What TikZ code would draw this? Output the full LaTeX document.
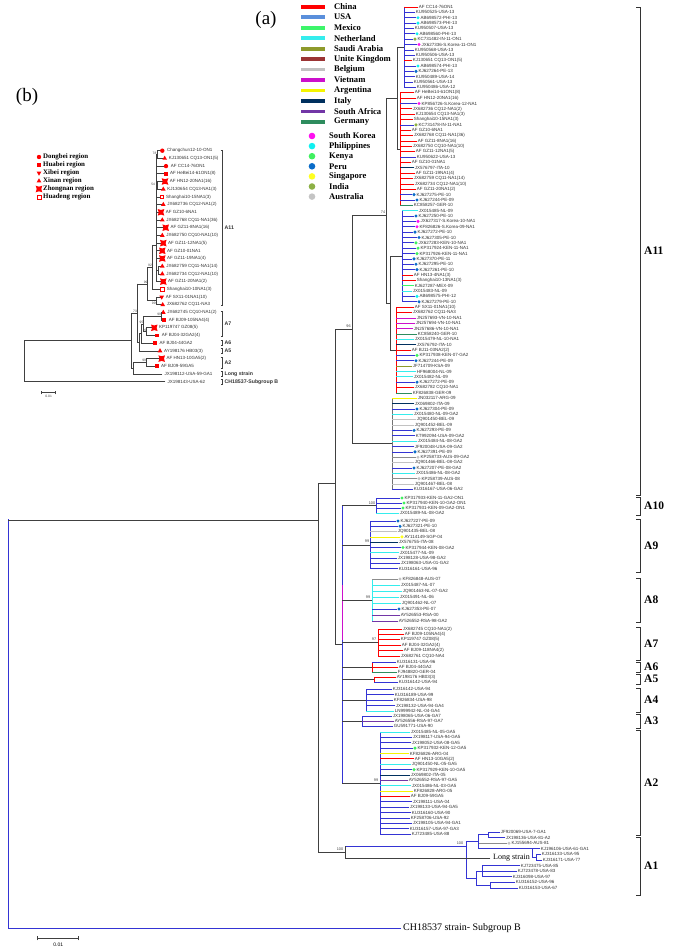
\documentclass[tikz,border=0pt]{standalone}
\usepackage{fontspec}
\setmainfont{Liberation Serif}
\setsansfont{Liberation Sans}
\usetikzlibrary{shapes.geometric}

\definecolor{cChina}{HTML}{FF0000}
\definecolor{cUSA}{HTML}{5A8FDB}
\definecolor{cMex}{HTML}{3DF56B}
\definecolor{cNeth}{HTML}{35EDED}
\definecolor{cSaudi}{HTML}{8E9A2B}
\definecolor{cUK}{HTML}{9B3434}
\definecolor{cBel}{HTML}{C2C2C2}
\definecolor{cViet}{HTML}{CC10CC}
\definecolor{cArg}{HTML}{F5F500}
\definecolor{cIta}{HTML}{00305E}
\definecolor{cSAf}{HTML}{7236A6}
\definecolor{cGer}{HTML}{2E8C5E}
\definecolor{dKor}{HTML}{FF10F0}
\definecolor{dPhi}{HTML}{10F0F0}
\definecolor{dKen}{HTML}{40F060}
\definecolor{dPer}{HTML}{0A6CC8}
\definecolor{dSin}{HTML}{FFFF20}
\definecolor{dInd}{HTML}{8DB046}
\definecolor{dAus}{HTML}{C4C4C4}
\definecolor{tUSA}{HTML}{3434D4}

% one comb of tips: name, first y, step, backbone x, backbone colour, count, {tip x/branch colour/dot colour/label}
\newcommand{\leafblock}[7]{%
  \draw[br,#5] (#4,#2) -- (#4,{#2+#3*(#6-1)});
  \foreach \tx/\lc/\dc/\lab [count=\k from 0] in {#7}{%
    \draw[br,\lc] (#4,{#2+#3*\k}) -- (\tx,{#2+#3*\k});
    \ifx\dc\nodot
      \node[tip] (#1\k) at (\tx,{#2+#3*\k}) {\lab};
    \else
      \fill[\dc] ({\tx+2},{#2+#3*\k}) circle (1.7);
      \node[tip] (#1\k) at ({\tx+3.7},{#2+#3*\k}) {\lab};
    \fi}}
\def\nodot{none}

\begin{document}
\begin{tikzpicture}[x=1pt, y=-1pt,
  lgd/.style={font=\bfseries\fontsize{8.6}{9}\selectfont, anchor=west, inner sep=1pt},
  reg/.style={font=\bfseries\fontsize{6.9}{7}\selectfont, anchor=west, inner sep=0.5pt},
  tip/.style={font=\sffamily\fontsize{4.5}{4.5}\selectfont, anchor=west, inner sep=0.6pt, text=black!80},
  boot/.style={font=\sffamily\fontsize{3.3}{3.3}\selectfont, inner sep=0.3pt, text=black!75},
  br/.style={line width=0.75pt, line cap=rect},
  bb/.style={br, black!75},
  clab/.style={font=\bfseries\fontsize{11.5}{12}\selectfont, anchor=west, inner sep=1pt},
  blab/.style={font=\sffamily\bfseries\fontsize{5.2}{5.2}\selectfont, anchor=west, inner sep=0.5pt, text=black!80},
  pan/.style={font=\fontsize{19}{19}\selectfont, inner sep=0pt},
  mDB/.style={circle, fill=red, inner sep=0pt, minimum size=4.4pt},
  mHB/.style={rectangle, fill=red, inner sep=0pt, minimum size=3.8pt},
  mXB/.style={regular polygon, regular polygon sides=3, shape border rotate=180, fill=red, inner sep=0pt, minimum size=5.4pt},
  mXN/.style={regular polygon, regular polygon sides=3, fill=red, inner sep=0pt, minimum size=5.4pt},
  mZN/.style={star, star points=4, star point ratio=0.5, fill=red, inner sep=0pt, minimum size=4.6pt},
  mHD/.style={rectangle, draw=red, fill=white, line width=0.5pt, inner sep=0pt, minimum size=3.6pt},
  mNo/.style={inner sep=0pt, minimum size=0pt},
]
\useasboundingbox (0,0) rectangle (685,952);

% ---- panel labels
\node[pan] (pa) at (266,20) {(a)};
\node[pan] (pb) at (27,97) {(b)};

% ---- legend (a)
\foreach \c/\t [count=\i from 0] in {cChina/China, cUSA/USA, cMex/Mexico, cNeth/Netherland, cSaudi/Saudi Arabia, cUK/Unite Kingdom, cBel/Belgium, cViet/Vietnam, cArg/Argentina, cIta/Italy, cSAf/South Africa, cGer/Germany}
  {\draw[\c, line width=3.8pt] (301,{6.7+10.48*\i}) -- (325,{6.7+10.48*\i});
   \node[lgd] (lg\i) at (333,{6.7+10.48*\i}) {\t};}
\foreach \c/\t [count=\i from 0] in {dKor/South Korea, dPhi/Philippines, dKen/Kenya, dPer/Peru, dSin/Singapore, dInd/India, dAus/Australia}
  {\fill[\c] (312,{136+10.1*\i}) circle (3.3);
   \node[lgd] (ld\i) at (328,{136+10.1*\i}) {\t};}

% ---- legend (b)
\foreach \m/\t [count=\i from 0] in {mDB/Dongbei region, mHB/Huabei region, mXB/Xibei region, mXN/Xinan region, mZN/Zhongnan region, mHD/Huadeng region}
  {\node[\m] (rm\i) at (39,{157+8*\i}) {};
   \node[reg] (rt\i) at (42.5,{157+8*\i}) {\t};}

% ---- tree (b): leaves
\foreach \m/\xa/\xb/\lab [count=\i from 0] in {
  mDB/157.5/162.3/Changchun12-10-ON1, mXN/157.5/164.7/KJ130651 CQ13-ON1(5),
  mDB/156.5/166/AF CC14-76ON1, mHB/156.5/165.7/AF HeBei14-61ON1(8),
  mZN/157.5/165/AF HN12-20NA1(16), mXN/157.5/163.3/KJ130654 CQ13-NA1(3),
  mHD/156.5/161.7/Shanghai10-15NA1(3), mXN/156.5/163.3/JX682736 CQ12-NA1(2),
  mZN/156.5/161/AF GZ10-6NA1, mXN/156.5/162.3/JX682768 CQ11-NA1(36),
  mZN/156.5/165.7/AF GZ11-8NA1(16), mXN/156.5/162.3/JX682750 CQ10-NA1(10),
  mZN/156.5/163.3/AF GZ11-12NA1(5), mZN/156.5/162.3/AF GZ10-01NA1,
  mZN/156.5/162.3/AF GZ11-19NA1(4), mXN/158/162.3/JX682759 CQ11-NA1(14),
  mXN/158/162.3/JX682734 CQ12-NA1(10), mZN/156.5/163.3/AF GZ11-20NA1(2),
  mHD/152/162.3/Shanghai10-10NA1(3), mXB/156/161.7/AF SX11-01NA1(10),
  mXN/156/162.7/JX682762 CQ11-NA3, mXN/161/163.3/JX682745 CQ10-NA1(2),
  mHB/161/164.3/AF BJ09-105NA4(4), mZN/146.7/154.3/KP119747 GZ08(5),
  mHB/146.7/157.3/AF BJ04-32GA2(4), mHB/141/155/AF BJ04-44GA2,
  mXN/139.3/160/AY198176 HB03(3), mZN/146/161.7/AF HN13-10GA5(2),
  mHB/146/156.7/AF BJ09-59GA5, mNo/133/162/JX198112-USA-59-GA1,
  mNo/24/165/JX198143-USA-62}
  {\draw[bb] (\xa,{150.7+7.7*\i}) -- (\xb,{150.7+7.7*\i});
   \node[\m] (bm\i) at (\xb,{150.7+7.7*\i}) {};
   \node[tip] (bt\i) at ([xshift=1.6pt]bm\i.east) {\lab};}

% ---- tree (b): inner nodes
\draw[bb] (157.5,150.7) -- (157.5,158.4);
\draw[bb] (156.5,154.55) -- (156.5,281.6);
\draw[bb] (156.5,154.55) -- (157.5,154.55);
\draw[bb] (157.5,181.5) -- (157.5,189.2) (156.5,185.35) -- (157.5,185.35);
\draw[bb] (158,266.2) -- (158,273.9) (156.5,270) -- (158,270);
\draw[bb] (152,245) -- (156.5,245) (152,245) -- (152,289.3);
\draw[bb] (156,297) -- (156,304.7);
\draw[bb] (147.5,267) -- (147.5,300.85) (147.5,267) -- (152,267) (147.5,300.85) -- (156,300.85);
\draw[bb] (161,312.4) -- (161,320.1);
\draw[bb] (146.7,327.8) -- (146.7,335.5);
\draw[bb] (143.3,316.25) -- (143.3,331.65) (143.3,316.25) -- (161,316.25) (143.3,331.65) -- (146.7,331.65);
\draw[bb] (141,323.95) -- (141,343.2) (141,323.95) -- (143.3,323.95);
\draw[bb] (139.3,333.6) -- (139.3,350.9) (139.3,333.6) -- (141,333.6);
\draw[bb] (137,283.9) -- (137,342.25) (137,283.9) -- (147.5,283.9) (137,342.25) -- (139.3,342.25);
\draw[bb] (146,358.6) -- (146,366.3);
\draw[bb] (133,362.45) -- (133,374) (133,362.45) -- (146,362.45);
\draw[bb] (131,313.1) -- (131,368.2) (131,313.1) -- (137,313.1) (131,368.2) -- (133,368.2);
\draw[bb] (24,340.65) -- (131,340.65) (24,340.65) -- (24,381.7);

\foreach \t/\x/\y in {78/154.5/153.5, 54/153.2/184, 92/150/265.5, 99/145.6/282.3, 99/153.8/303.2,
  73/135/311.5, 99/159.2/314.6, 95/141.5/322.3, 99/144.8/330, 99/144.2/360.8}
  \node[boot] at (\x,\y) {\t};

% ---- brackets (b)
\foreach \ya/\yb/\t in {150/305/A11, 311.5/336.3/A7, 340.7/345.7/A6, 348.4/353.4/A5,
  356.8/368/A2, 371.5/376.5/Long strain, 379.2/384.2/CH18537-Subgroup B}
  {\draw[black!75, line width=0.6pt] (220.5,\ya) -- (222.7,\ya) -- (222.7,\yb) -- (220.5,\yb);
   \node[blab] at (224,{(\ya+\yb)/2}) {\t};}

% ---- scale bar (b)
\draw[bb, line width=0.6pt] (41.7,392.7) -- (55.7,392.7) (41.7,391.3) -- (41.7,394.1) (55.7,391.3) -- (55.7,394.1);
\node[boot] (sb) at (48.7,396.6) {0.01};

% ---- tree (a): clade A11
\begin{scope}[xshift=14pt]
\leafblock{k}{7}{5.36}{390}{tUSA}{16}{404/cChina/none/AF CC14-76ON1, 401/tUSA/none/KU950525-USA-13,
  402/tUSA/dPhi/AB698572-PHI-13, 402/tUSA/dPhi/AB698573-PHI-13, 400/tUSA/none/KU950507-USA-13,
  401/tUSA/dPhi/AB698560-PHI-13, 399/tUSA/dInd/KC731482-IN-11-ON1, 403/tUSA/dKor/JX627336-S.Korea-11-ON1,
  400/tUSA/none/KU950568-USA-13, 401/tUSA/none/KU950506-USA-13, 398/cChina/none/KJ130651 CQ13-ON1(5),
  402/tUSA/dPhi/AB698574-PHI-13, 400/tUSA/dPer/KJ627264-PE-13, 401/tUSA/none/KU950489-USA-14,
  399/tUSA/none/KU950561-USA-13, 402/tUSA/none/KU950486-USA-12}
\leafblock{m}{92.76}{5.36}{386}{cChina}{22}{400/cChina/none/AF HeBei14-61ON1(8), 402/cChina/none/AF HN12-20NA1(16),
  403/tUSA/dKor/KP856726-S.Korea-12-NA1, 398/cChina/none/JX682736 CQ12-NA1(2), 401/cChina/none/KJ130654 CQ13-NA1(3),
  399/cChina/none/Shanghai10-15NA1(3), 400/tUSA/dInd/KC731478-IN-11-NA1, 397/cChina/none/AF GZ10-6NA1,
  399/cChina/none/JX682768 CQ11-NA1(36), 403/cChina/none/AF GZ11-8NA1(16), 398/cChina/none/JX682750 CQ10-NA1(10),
  401/cChina/none/AF GZ11-12NA1(5), 402/tUSA/none/KU950622-USA-13, 397/cChina/none/AF GZ10-01NA1,
  400/cIta/none/JX576797-ITA-10, 401/cChina/none/AF GZ11-19NA1(4), 399/cChina/none/JX682759 CQ11-NA1(14),
  400/cChina/none/JX682734 CQ12-NA1(10), 402/cChina/none/AF GZ11-20NA1(2), 398/tUSA/dPer/KJ627275-PE-10,
  401/tUSA/dPer/KJ627244-PE-09, 399/cGer/none/KC858257-GER-10}
\leafblock{n}{210.68}{5.36}{388}{tUSA}{18}{404/cNeth/none/JX015485-NL-09, 400/tUSA/dPer/KJ627250-PE-10,
  402/tUSA/dKor/JX627317-S.Korea-10-NA1, 401/tUSA/dKor/KF826826-S.Korea-09-NA1, 399/tUSA/dPer/KJ627272-PE-10,
  403/tUSA/dPer/KJ627305-PE-10, 400/tUSA/dKen/JX627283-KEN-10-NA1, 402/tUSA/dKen/KP317924-KEN-11-NA1,
  401/tUSA/dKen/KP317926-KEN-11-NA1, 398/tUSA/dPer/KJ627370-PE-11, 400/tUSA/dPer/KJ627295-PE-10,
  401/tUSA/dPer/KJ627261-PE-10, 399/cChina/none/AF HN13-4NA1(3), 402/cChina/none/Shanghai10-13NA1(3),
  400/cMex/none/KJ627287-MEX-09, 398/cNeth/none/JX015483-NL-09, 401/tUSA/dPhi/AB698575-PHI-12,
  403/tUSA/dPer/KJ627279-PE-10}
\leafblock{o}{307.16}{5.36}{382}{cChina}{17}{400/cChina/none/AF SX11-01NA1(10), 398/cChina/none/JX682762 CQ11-NA3,
  402/cViet/none/JN257693-VN-10-NA1, 401/cViet/none/JN257694-VN-10-NA1, 399/cViet/none/JN257686-VN-10-NA1,
  403/cGer/none/KC858240-GER-10, 400/cNeth/none/JX015479-NL-10-NA1, 402/cIta/none/JX576792-ITA-10,
  397/cChina/none/AF BJ11-03NA2(2), 401/tUSA/dKen/KP317938-KEN-07-GA2, 400/tUSA/dPer/KJ627244-PE-09,
  398/cSaudi/none/JF714709-KSA-09, 402/cNeth/none/HF968004-NL-09, 399/cNeth/none/JX015482-NL-09,
  401/tUSA/dPer/KJ627272-PE-09, 400/cChina/none/JX682782 CQ10-NA1, 398/cGer/none/KF826838-GER-09}
\leafblock{p}{398.28}{5.36}{378}{black!55}{18}{403/cArg/none/JN032117-ARG-09, 400/cIta/none/JX069802-ITA-09,
  401/tUSA/dPer/KJ627304-PE-09, 399/cNeth/none/JX015480-NL-09-GA2, 402/cBel/none/JQ901450-BEL-09,
  400/cBel/none/JQ901452-BEL-09, 398/tUSA/dPer/KJ627293-PE-09, 401/tUSA/none/KT992094-USA-09-GA2,
  403/cNeth/none/JX015484-NL-08-GA2, 400/tUSA/none/JF920048-USA-09-GA2, 399/tUSA/dPer/KJ627391-PE-09,
  402/black!45/dAus/KP258733-AUS-09-GA2, 400/cBel/none/JQ901466-BEL-08-GA2, 398/tUSA/dPer/KJ627207-PE-08-GA2,
  401/cNeth/none/JX015486-NL-08-GA2, 403/black!45/dAus/KP258739-AUS-08, 400/cBel/none/JQ901467-BEL-08,
  399/tUSA/none/KU316167-USA-06-GA2}
\draw[bb] (383,47.2) -- (383,149) (383,47.2) -- (390,47.2) (383,149) -- (386,149);
\draw[bb] (376,256.2) -- (376,350) (376,256.2) -- (388,256.2) (376,350) -- (382,350);
\draw[bb] (372,98.1) -- (372,303.1) (372,98.1) -- (383,98.1) (372,303.1) -- (376,303.1);
\draw[bb] (338,215) -- (338,443.8) (338,215) -- (372,215) (338,443.8) -- (378,443.8);
\end{scope}

% ---- tree (a): clades A10 to A2
\leafblock{q}{498}{5}{376}{tUSA}{4}{400/tUSA/dKen/KP317933-KEN-11-GA2-ON1, 402/tUSA/dKen/KP317940-KEN-10-GA2-ON1,
  401/tUSA/dKen/KP317931-KEN-09-GA2-ON1, 399/cNeth/none/JX015489-NL-08-GA2}
\leafblock{r}{521}{5.3}{370}{tUSA}{10}{396/tUSA/dPer/KJ627227-PE-09, 398/tUSA/dPer/KJ627321-PE-10,
  397/cBel/none/JQ901435-BEL-08, 400/cArg/dSin/AY114149-SGP-04, 398/cIta/none/JX576755-ITA-08,
  401/tUSA/dKen/KP317944-KEN-08-GA2, 399/cNeth/none/JX015477-NL-09, 397/tUSA/none/JX198128-USA-98-GA2,
  400/tUSA/none/JX198063-USA-01-GA2, 398/tUSA/none/KU316161-USA-96}
\leafblock{s}{579}{6}{372}{cNeth}{8}{398/black!45/dAus/KF826848-AUS-07, 400/cNeth/none/JX015487-NL-07,
  402/cNeth/none/JQ901463-NL-07-GA2, 399/cNeth/none/JX015491-NL-06, 401/cNeth/none/JQ901462-NL-07,
  397/tUSA/dPer/KJ627353-PE-07, 400/cSAf/none/AY526553-RSA-00, 398/cSAf/none/AY526552-RSA-98-GA2}
\leafblock{u}{629}{5.4}{378}{cChina}{6}{402/cChina/none/JX682745 CQ10-NA1(2), 404/cChina/none/AF BJ09-105NA4(4),
  400/cChina/none/KP119747 GZ08(5), 401/cChina/none/AF BJ04-32GA2(4), 403/cChina/none/AF BJ09-118NA4(2),
  400/cChina/none/JX682761 CQ10-NA4}
\leafblock{v}{662}{5}{372}{cChina}{3}{396/tUSA/none/KU316131-USA-96, 398/cChina/none/AF BJ04-44GA2,
  397/cGer/none/FJ948820-GER-04}
\leafblock{w}{677}{5}{374}{cChina}{2}{396/cChina/none/AY198176 HB03(3), 398/tUSA/none/KU316142-USA-94}
\leafblock{x}{689}{5.5}{366}{tUSA}{5}{392/tUSA/none/KJ316142-USA-94, 394/tUSA/none/KU316189-USA-99,
  393/tUSA/none/KF826834-USA-98, 395/tUSA/none/JX198132-USA-94-GA4, 394/cNeth/none/LN999942-NL-04-GA4}
\leafblock{y}{716}{5}{362}{tUSA}{3}{392/tUSA/none/JX198065-USA-06-GA7, 394/cSAf/none/AY526556-RSA-97-GA7,
  393/tUSA/none/GU591771-USA-90}
\leafblock{z}{732}{5.37}{380}{tUSA}{20}{410/cNeth/none/JX015485-NL-05-GA5, 412/tUSA/none/JX198117-USA-94-GA5,
  411/tUSA/none/JX198052-USA-08-GA5, 413/tUSA/dKen/KP317932-KEN-12-GA5, 409/cArg/none/KF826826-ARG-04,
  414/cChina/none/AF HN13-10GA5(2), 411/cNeth/none/JQ901450-NL-05-GA5, 412/tUSA/dKen/KP317929-KEN-10-GA5,
  410/cIta/none/JX069802-ITA-05, 408/cSAf/none/AY526552-RSA-97-GA5, 411/cNeth/none/JX015486-NL-03-GA5,
  413/cArg/none/KF826828-ARG-05, 410/cChina/none/AF BJ09-59GA5, 412/tUSA/none/JX198111-USA-04,
  409/tUSA/none/JX198133-USA-94-GA5, 411/tUSA/none/KU316160-USA-90, 410/tUSA/none/KF258706-USA-92,
  412/tUSA/none/JX198105-USA-94-GA1, 409/tUSA/none/KU316157-USA-97-GA3, 411/tUSA/none/KJ723485-USA-88}
\draw[br, tUSA] (342,505.5) -- (342,585) (342,640) -- (342,783);
\draw[br, cViet] (342,585) -- (342,640);
\foreach \y/\x in {505.5/376, 544.9/370, 600/372, 642.5/378, 667/372, 679.5/374, 700/366, 721/362, 783/380}
  \draw[bb] (342,\y) -- (\x,\y);

% ---- tree (a): clade A1 and long strain
\foreach \xa/\xb/\c/\d/\lab [count=\k from 0] in {488/500/tUSA/none/JF920069-USA-7-GA1,
  488/505/tUSA/none/JX198136-USA-81-A2, 478/507/black!45/dAus/KJ155694-AUS-81,
  478/540/tUSA/none/KJ196106-USA-61-GA1, 536/541/tUSA/none/KJ316133-USA-95,
  536/542/tUSA/none/KJ316171-USA-77, 482/520/tUSA/none/KJ723475-USA-85,
  482/517/tUSA/none/KJ723478-USA-83, 482/512/tUSA/none/KJ316098-USA-97,
  490/515/tUSA/none/KU316152-USA-96, 490/518/tUSA/none/KU316153-USA-67}
  {\draw[br,\c] (\xa,{832+5.6*\k}) -- (\xb,{832+5.6*\k});
   \ifx\d\nodot \node[tip] (a\k) at (\xb,{832+5.6*\k}) {\lab};
   \else \fill[\d] ({\xb+2},{832+5.6*\k}) circle (1.7);
         \node[tip] (a\k) at ({\xb+3.7},{832+5.6*\k}) {\lab}; \fi}
\draw[br, tUSA] (488,832) -- (488,837.6) (536,854.4) -- (536,860) (532,848.8) -- (532,857.2) -- (536,857.2);
\draw[br, tUSA] (478,834.8) -- (478,848.8) (478,834.8) -- (488,834.8);
\draw[br, tUSA] (482,865.6) -- (482,876.8) (490,882.4) -- (490,888);
\draw[br, tUSA] (476,871.2) -- (476,885.2) (476,871.2) -- (482,871.2) (476,885.2) -- (490,885.2);
\draw[br, tUSA] (466,841.8) -- (466,878.2) (466,841.8) -- (478,841.8) (466,878.2) -- (476,878.2);
\draw[br, tUSA] (345,846) -- (466,846);
\draw[bb] (345,846) -- (345,858) (345,858) -- (490,858);
\node[font=\fontsize{8}{8}\selectfont, anchor=west, inner sep=1pt] (ls) at (492,858) {Long strain};

% ---- tree (a): backbone and root
\draw[bb] (335,329.4) -- (335,644) (335,329.4) -- (352,329.4) (335,644) -- (342,644);
\draw[bb] (318,483) -- (318,852) (318,483) -- (335,483) (318,852) -- (345,852);
\draw[br, tUSA, line width=1.1pt] (8.3,520) -- (8.3,928.3) -- (400,928.3);
\draw[bb] (8.3,520) -- (318,520);
\node[font=\fontsize{10}{10}\selectfont, anchor=west, inner sep=1pt] (chb) at (402,928.3) {CH18537 strain- Subgroup B};

\foreach \t/\x/\y in {96/348.5/326, 74/383/212, 100/372/503, 99/367/541.5, 99/368/597, 97/374/639.5,
  99/376/780, 100/460/843, 100/340/849}
  \node[boot, font=\sffamily\fontsize{3.8}{3.8}\selectfont] at (\x,\y) {\t};

% ---- brackets (a)
\foreach \ya/\yb/\t in {7/495/A11, 497/515/A10, 519/572/A9, 578/622/A8, 627/660/A7,
  662/672/A6, 674/684/A5, 688/712/A4, 714/728/A3, 730/835/A2, 837/895/A1}
  {\draw[black!80, line width=0.7pt] (636,\ya) -- (640,\ya) -- (640,\yb) -- (636,\yb);
   \node[clab] at (643,{(\ya+\yb)/2}) {\t};}

% ---- scale bar (a)
\draw[bb, line width=0.7pt] (37.7,938.3) -- (78.7,938.3) (37.7,936.5) -- (37.7,940.1) (78.7,936.5) -- (78.7,940.1);
\node[font=\sffamily\fontsize{5}{5}\selectfont, inner sep=0pt] (sa) at (58.2,944.3) {0.01};
\end{tikzpicture}
\end{document}
